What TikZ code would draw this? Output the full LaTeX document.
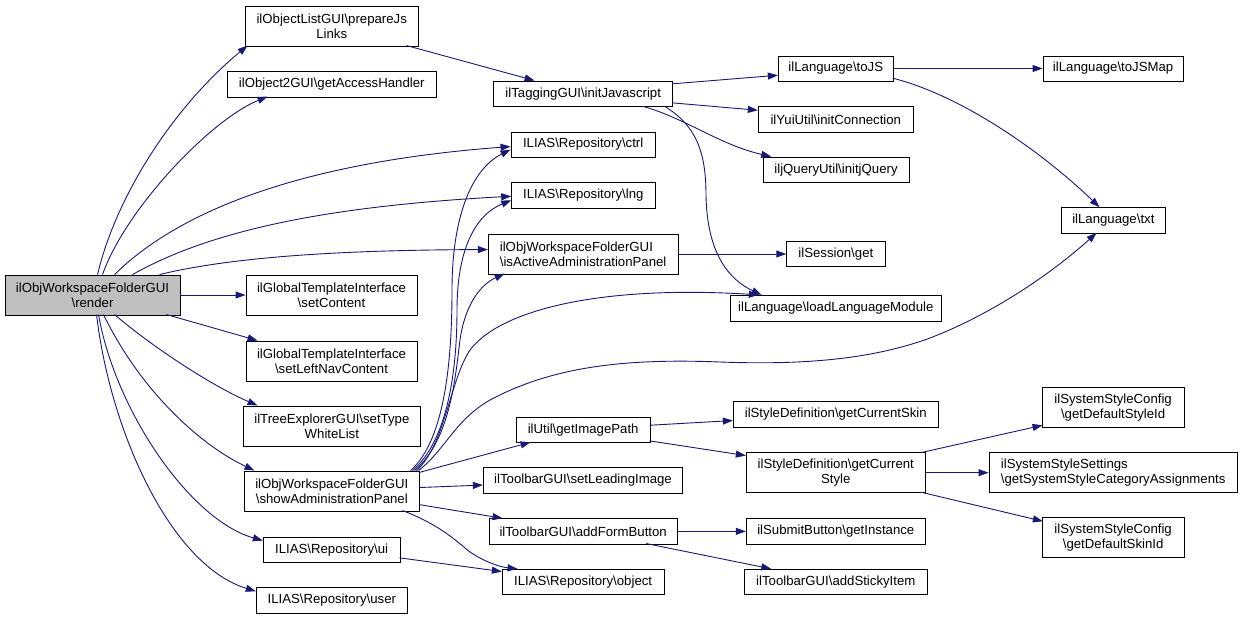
\documentclass[tikz,border=0pt]{standalone}
\usepackage{fontspec}
\setmainfont{Liberation Sans}
\usetikzlibrary{arrows.meta,calc}
\definecolor{edgecol}{HTML}{191970}
\definecolor{rootfill}{HTML}{BFBFBF}
\newcommand{\bsl}{\textbackslash}
\begin{document}
\begin{tikzpicture}[x=1pt,y=-1pt,
  box/.style={draw=black, line width=0.9pt, fill=white, inner sep=0pt, align=center,
    font=\fontsize{13.2}{15}\selectfont},
  edge/.style={draw=edgecol, line width=0.9pt, -{Triangle[length=10pt,width=7pt]}}]
\useasboundingbox (0,0) rectangle (1243,619);
% nodes
\node[box, fill=rootfill, minimum width=175pt, minimum height=40pt] (render) at (92.5,295) {ilObjWorkspaceFolderGUI\\\bsl render};
\node[box, minimum width=172.5pt, minimum height=40pt] (prep) at (331.75,26) {ilObjectListGUI\bsl prepareJs\\Links};
\node[box, minimum width=208.5pt, minimum height=26pt] (access) at (331.75,84) {ilObject2GUI\bsl getAccessHandler};
\node[box, minimum width=171pt, minimum height=40pt] (setcontent) at (331.5,295) {ilGlobalTemplateInterface\\\bsl setContent};
\node[box, minimum width=171pt, minimum height=40pt] (setleft) at (331.5,361) {ilGlobalTemplateInterface\\\bsl setLeftNavContent};
\node[box, minimum width=177.7pt, minimum height=40pt] (settype) at (331.85,426) {ilTreeExplorerGUI\bsl setType\\WhiteList};
\node[box, minimum width=175pt, minimum height=40pt] (show) at (331.8,491) {ilObjWorkspaceFolderGUI\\\bsl showAdministrationPanel};
\node[box, minimum width=136.7pt, minimum height=25.7pt] (ui) at (331.65,549.85) {ILIAS\bsl Repository\bsl ui};
\node[box, minimum width=151pt, minimum height=25.6pt] (user) at (331.8,600.5) {ILIAS\bsl Repository\bsl user};
\node[box, minimum width=179pt, minimum height=25.7pt] (initjs) at (583.2,93.85) {ilTaggingGUI\bsl initJavascript};
\node[box, minimum width=144.3pt, minimum height=25pt] (ctrl) at (583.15,144.5) {ILIAS\bsl Repository\bsl ctrl};
\node[box, minimum width=143.3pt, minimum height=25.3pt] (lng) at (583.35,195.35) {ILIAS\bsl Repository\bsl lng};
\node[box, align=left, minimum width=189.7pt, minimum height=40pt] (isactive) at (583.15,254) {ilObjWorkspaceFolderGUI\\\bsl isActiveAdministrationPanel};
\node[box, minimum width=133.7pt, minimum height=25.7pt] (imgpath) at (583.15,429.85) {ilUtil\bsl getImagePath};
\node[box, minimum width=199.4pt, minimum height=25.6pt] (leading) at (583,480.5) {ilToolbarGUI\bsl setLeadingImage};
\node[box, minimum width=188.3pt, minimum height=25.3pt] (addform) at (583.15,531.35) {ilToolbarGUI\bsl addFormButton};
\node[box, minimum width=161.7pt, minimum height=25.4pt] (object) at (583.15,582) {ILIAS\bsl Repository\bsl object};
\node[box, minimum width=115pt, minimum height=25pt] (tojs) at (835.8,68.5) {ilLanguage\bsl toJS};
\node[box, minimum width=155pt, minimum height=25.3pt] (initconn) at (835.8,119.35) {ilYuiUtil\bsl initConnection};
\node[box, minimum width=146pt, minimum height=25.7pt] (initjq) at (836,169.85) {iljQueryUtil\bsl initjQuery};
\node[box, minimum width=98.3pt, minimum height=25.7pt] (session) at (835.85,253.85) {ilSession\bsl get};
\node[box, minimum width=211pt, minimum height=26pt] (loadlm) at (835.8,308.3) {ilLanguage\bsl loadLanguageModule};
\node[box, minimum width=205pt, minimum height=26pt] (curskin) at (835.8,414) {ilStyleDefinition\bsl getCurrentSkin};
\node[box, minimum width=179pt, minimum height=40pt] (curstyle) at (835.8,472.7) {ilStyleDefinition\bsl getCurrent\\Style};
\node[box, minimum width=179pt, minimum height=25.3pt] (getinst) at (835.8,531.35) {ilSubmitButton\bsl getInstance};
\node[box, minimum width=183pt, minimum height=25.4pt] (sticky) at (835.8,582) {ilToolbarGUI\bsl addStickyItem};
\node[box, minimum width=140.3pt, minimum height=25pt] (tojsmap) at (1113.15,68.5) {ilLanguage\bsl toJSMap};
\node[box, minimum width=103.3pt, minimum height=25.6pt] (txt) at (1113.35,220.5) {ilLanguage\bsl txt};
\node[box, minimum width=141.7pt, minimum height=40pt] (styleid) at (1113.15,407.3) {ilSystemStyleConfig\\\bsl getDefaultStyleId};
\node[box, align=left, minimum width=248.3pt, minimum height=40pt] (catassign) at (1113.15,472.7) {ilSystemStyleSettings\\\bsl getSystemStyleCategoryAssignments};
\node[box, minimum width=141.7pt, minimum height=40pt] (skinid) at (1113.15,537.7) {ilSystemStyleConfig\\\bsl getDefaultSkinId};
% edges from render
\draw[edge] ($(render.north west)+(93,0)$) .. controls (115,200) and (170,110) .. ($(prep.north west)+(2.5,40)$);
\draw[edge] ($(render.north west)+(98,0)$) .. controls (125,210) and (210,120) .. ($(access.north west)+(40.5,26)$);
\draw[edge] ($(render.north west)+(110,0)$) .. controls (190,200) and (330,160) .. ($(ctrl.north west)+(0,15)$);
\draw[edge] ($(render.north west)+(128,0)$) .. controls (220,225) and (350,205) .. ($(lng.north west)+(0,14)$);
\draw[edge] ($(render.north west)+(155,0)$) .. controls (240,255) and (360,250) .. ($(isactive.north west)+(0,16)$);
\draw[edge] (render.east) -- (setcontent.west);
\draw[edge] ($(render.north west)+(162,40)$) -- ($(setleft.north west)+(12,0)$);
\draw[edge] ($(render.north west)+(110,40)$) .. controls (150,345) and (210,385) .. ($(settype.north west)+(15,0)$);
\draw[edge] ($(render.north west)+(99,40)$) .. controls (140,390) and (200,445) .. ($(show.north west)+(10.7,0)$);
\draw[edge] ($(render.north west)+(94,40)$) .. controls (115,410) and (190,520) .. ($(ui.north west)+(0,4)$);
\draw[edge] ($(render.north west)+(92,40)$) .. controls (110,430) and (170,565) .. ($(user.north west)+(0,4)$);
% other edges
\draw[edge] ($(prep.north west)+(161.5,40)$) -- ($(initjs.north west)+(41.3,0)$);
\draw[edge] ($(initjs.north west)+(179,3.3)$) -- ($(tojs.north west)+(0,19.7)$);
\draw[edge] ($(initjs.north west)+(179,22.3)$) -- ($(initconn.north west)+(0,4)$);
\draw[edge] ($(initjs.north west)+(149.3,25.7)$) .. controls (685,118) and (720,145) .. ($(initjq.north west)+(8.7,0)$);
\draw[edge] ($(initjs.north west)+(171.3,25.7)$) .. controls (695,125) and (706,150) .. (706,195) .. controls (707,255) and (730,280) .. ($(loadlm.north west)+(31.7,0)$);
\draw[edge] (tojs.east) -- (tojsmap.west);
\draw[edge] ($(tojs.north west)+(115,22.7)$) .. controls (960,95) and (1040,150) .. ($(txt.north west)+(38.3,0)$);
\draw[edge] (isactive.east) -- (isactive.east -| session.west);
% from showAdministrationPanel
\draw[edge] ($(show.north west)+(166.7,0)$) .. controls (445,440) and (452,360) .. (452,290) .. controls (452,220) and (470,170) .. ($(ctrl.north west)+(0,18)$);
\draw[edge] ($(show.north west)+(168.7,0)$) .. controls (448,440) and (457,370) .. (457,310) .. controls (457,250) and (475,215) .. ($(lng.north west)+(0,18)$);
\draw[edge] ($(show.north west)+(170.7,0)$) .. controls (450,440) and (455,380) .. (460,340) .. controls (465,305) and (480,285) .. ($(isactive.north west)+(16.7,40)$);
\draw[edge] ($(show.north west)+(172.7,0)$) .. controls (445,445) and (450,380) .. (470,350) .. controls (500,310) and (600,285) .. ($(loadlm.north west)+(29,0)$);
\draw[edge] ($(show.north west)+(174.7,0)$) .. controls (445,450) and (455,420) .. (490,400) .. controls (550,368) and (620,358) .. (720,362) .. controls (800,365) and (870,360) .. (930,338) .. controls (990,315) and (1050,275) .. ($(txt.north west)+(35.3,25.6)$);
\draw[edge] ($(show.north west)+(175,2)$) -- ($(imgpath.north west)+(14.7,25.7)$);
\draw[edge] ($(show.north west)+(175,17)$) -- ($(leading.north west)+(0,17.8)$);
\draw[edge] ($(show.north west)+(175,34)$) -- ($(addform.north west)+(14,0)$);
\draw[edge] ($(show.north west)+(158.7,40)$) .. controls (440,525) and (455,540) .. (470,552) .. controls (485,562) and (500,567) .. ($(object.north west)+(15.7,0)$);
\draw[edge] ($(ui.north west)+(136.7,21.3)$) -- ($(object.north west)+(0,2.7)$);
\draw[edge] ($(imgpath.north west)+(133.7,8.7)$) -- ($(curskin.north west)+(0,20)$);
\draw[edge] ($(imgpath.north west)+(133.7,24.3)$) -- ($(curstyle.north west)+(0,3.3)$);
\draw[edge] (addform.east) -- (getinst.west);
\draw[edge] ($(addform.north west)+(157.7,25.3)$) -- ($(sticky.north west)+(27.4,0)$);
\draw[edge] ($(curstyle.north west)+(176.7,0)$) -- ($(styleid.north west)+(0.7,38.4)$);
\draw[edge] (curstyle.east) -- (catassign.west);
\draw[edge] ($(curstyle.north west)+(175.4,40)$) -- ($(skinid.north west)+(1,4)$);
\end{tikzpicture}
\end{document}
